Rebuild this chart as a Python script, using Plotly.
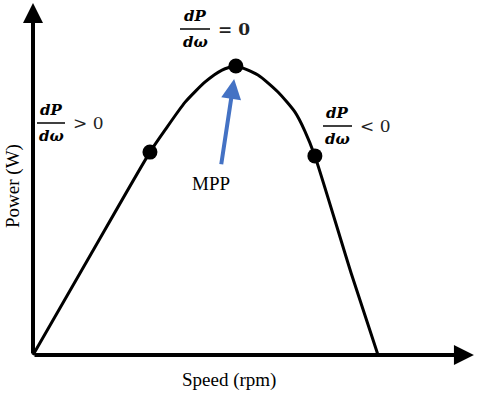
import plotly.graph_objects as go

# Curve data (relative speed %, relative power %)
speed = [0, 16.9, 33.9, 38.3, 44.1, 49.9, 54.8, 58.8, 65.2, 71.0, 75.9, 78.8, 81.7, 92.2, 100]
power = [0, 35.1, 70.2, 77.9, 87.5, 94.5, 98.6, 100, 96.9, 91.0, 84.1, 77.5, 68.9, 28.4, 0]

# Marked operating points
pt_speed = [33.9, 58.8, 81.7]
pt_power = [70.2, 100, 68.9]

x_label = "Speed (rpm)"
y_label = "Power (W)"

W, H = 480, 396
def px(x):
    return x / W
def py(y):
    return 1 - y / H

fig = go.Figure()
fig.add_trace(go.Scatter(x=speed, y=power, mode="lines",
                         line=dict(color="black", width=3, shape="spline", smoothing=0.6),
                         hoverinfo="skip"))
fig.add_trace(go.Scatter(x=pt_speed, y=pt_power, mode="markers",
                         marker=dict(color="black", size=15), hoverinfo="skip"))

ann = []
# axes arrows
ann.append(dict(x=0, y=121.8, ax=0, ay=0, xref="x", yref="y", axref="x", ayref="y",
                showarrow=True, arrowhead=2, arrowsize=1, arrowwidth=4, arrowcolor="black", text=""))
ann.append(dict(x=127.8, y=0, ax=0, ay=0, xref="x", yref="y", axref="x", ayref="y",
                showarrow=True, arrowhead=2, arrowsize=1, arrowwidth=4, arrowcolor="black", text=""))
# MPP arrow
ann.append(dict(x=58.3, y=95.5, ax=54.5, ay=65.5, xref="x", yref="y", axref="x", ayref="y",
                showarrow=True, arrowhead=2, arrowsize=1, arrowwidth=4, arrowcolor="#4472C4", text=""))

serif = "Liberation Serif"
def label(x, y, text, size=16, angle=0, anchor="center", family=serif, color="black"):
    ann.append(dict(x=px(x), y=py(y), xref="paper", yref="paper", text=text, showarrow=False,
                    xanchor=anchor, yanchor="middle", textangle=angle,
                    font=dict(family=family, size=size, color=color)))

label(211, 183, "MPP", size=19)
label(229, 380, x_label, size=19)
label(13, 186, y_label, size=19, angle=-90)

shapes = []
def frac(cx, ybar, x0, x1, rel, bold_rel):
    label(cx, ybar - 13, "<b><i>dP</i></b>", size=15, family="DejaVu Serif")
    label(cx, ybar + 13, "<b><i>dω</i></b>", size=15, family="DejaVu Serif")
    shapes.append(dict(type="line", xref="paper", yref="paper", x0=px(x0), x1=px(x1),
                       y0=py(ybar), y1=py(ybar), line=dict(color="black", width=1.5)))
    txt = "<b>" + rel + "</b>" if bold_rel else rel
    label(x1 + 6, ybar, txt, size=17, anchor="left", family="DejaVu Serif", color="#222")

frac(51, 123, 37, 65, "> 0", False)
frac(195, 29, 180, 210, "= 0", True)
frac(337, 126, 323, 352, "< 0", False)

fig.update_layout(
    width=W, height=H, margin=dict(l=0, r=0, t=0, b=0),
    paper_bgcolor="white", plot_bgcolor="white", showlegend=False,
    xaxis=dict(range=[-33/3.45, (W-33)/3.45], visible=False),
    yaxis=dict(range=[-(H-355)/2.89, 355/2.89], visible=False),
    annotations=ann, shapes=shapes,
)
fig.write_html("out.html", config={"displayModeBar": False},
               post_script="document.body.style.margin='0';")
